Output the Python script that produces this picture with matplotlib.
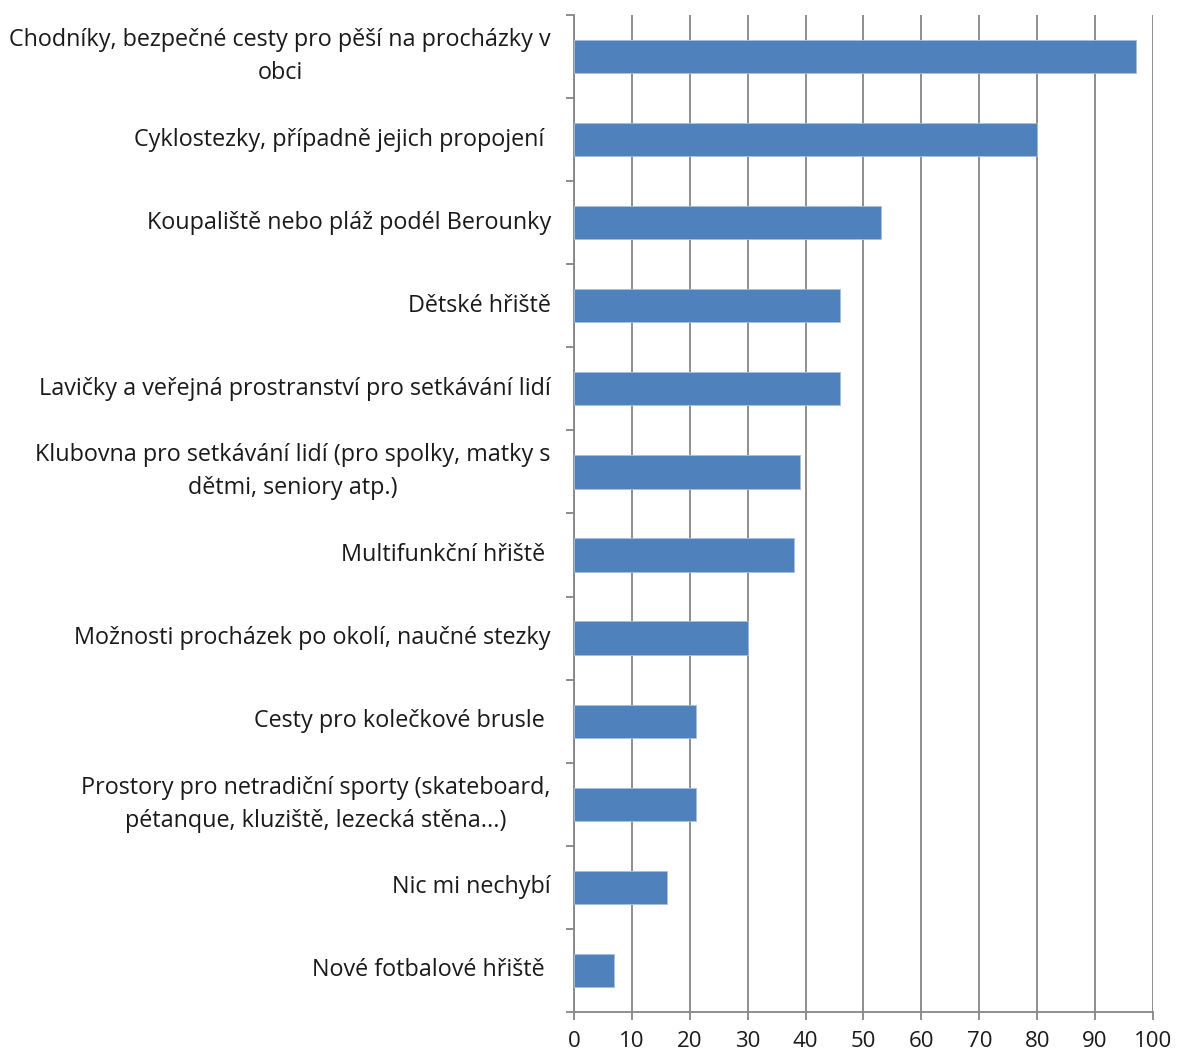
import matplotlib.pyplot as plt

# Data (top to bottom as in the chart)
kategorie = [
    'Chodníky, bezpečné cesty pro pěší na procházky v\nobci',
    'Cyklostezky, případně jejich propojení ',
    'Koupaliště nebo pláž podél Berounky',
    'Dětské hřiště',
    'Lavičky a veřejná prostranství pro setkávání lidí',
    'Klubovna pro setkávání lidí (pro spolky, matky s\ndětmi, seniory atp.)',
    'Multifunkční hřiště ',
    'Možnosti procházek po okolí, naučné stezky',
    'Cesty pro kolečkové brusle ',
    'Prostory pro netradiční sporty (skateboard,\npétanque, kluziště, lezecká stěna...)',
    'Nic mi nechybí',
    'Nové fotbalové hřiště ',
]
hodnoty = [97, 80, 53, 46, 46, 39, 38, 30, 21, 21, 16, 7]
x_ticks = [0, 10, 20, 30, 40, 50, 60, 70, 80, 90, 100]

plt.rcParams['font.family'] = ['Open Sans', 'DejaVu Sans']

fig = plt.figure(figsize=(11.8, 10.57), dpi=100)
ax = fig.add_axes([0.4864, 0.0426, 0.4907, 0.9432])

n = len(kategorie)
pozice = list(range(n))
ax.barh(pozice, hodnoty, height=0.4, color='#4F81BD', edgecolor='#A7C0DE',
        linewidth=0.6, zorder=3)

ax.set_xlim(0, 100)
ax.set_ylim(n - 0.5, -0.5)
ax.set_xticks(x_ticks)
ax.set_xticklabels([str(t) for t in x_ticks], fontsize=16, color='#1a1a1a')

# category labels, ticks between categories
ax.set_yticks([p - 0.5 for p in range(n + 1)])
ax.set_yticklabels([])
for p, lab in zip(pozice, kategorie):
    ax.text(-0.04, p, lab, transform=ax.get_yaxis_transform(),
            ha='right', va='center', multialignment='center',
            fontsize=16.8, color='#1a1a1a', linespacing=1.5)

ax.grid(axis='x', color='#868686', linewidth=1.3, zorder=0)
for s in ['top', 'right']:
    ax.spines[s].set_visible(False)
for s in ['left', 'bottom']:
    ax.spines[s].set_color('#868686')
    ax.spines[s].set_linewidth(1.3)
ax.tick_params(axis='both', color='#868686', width=1.3, length=6)
ax.tick_params(axis='x', pad=8)

fig.savefig('out.png', dpi=100)
